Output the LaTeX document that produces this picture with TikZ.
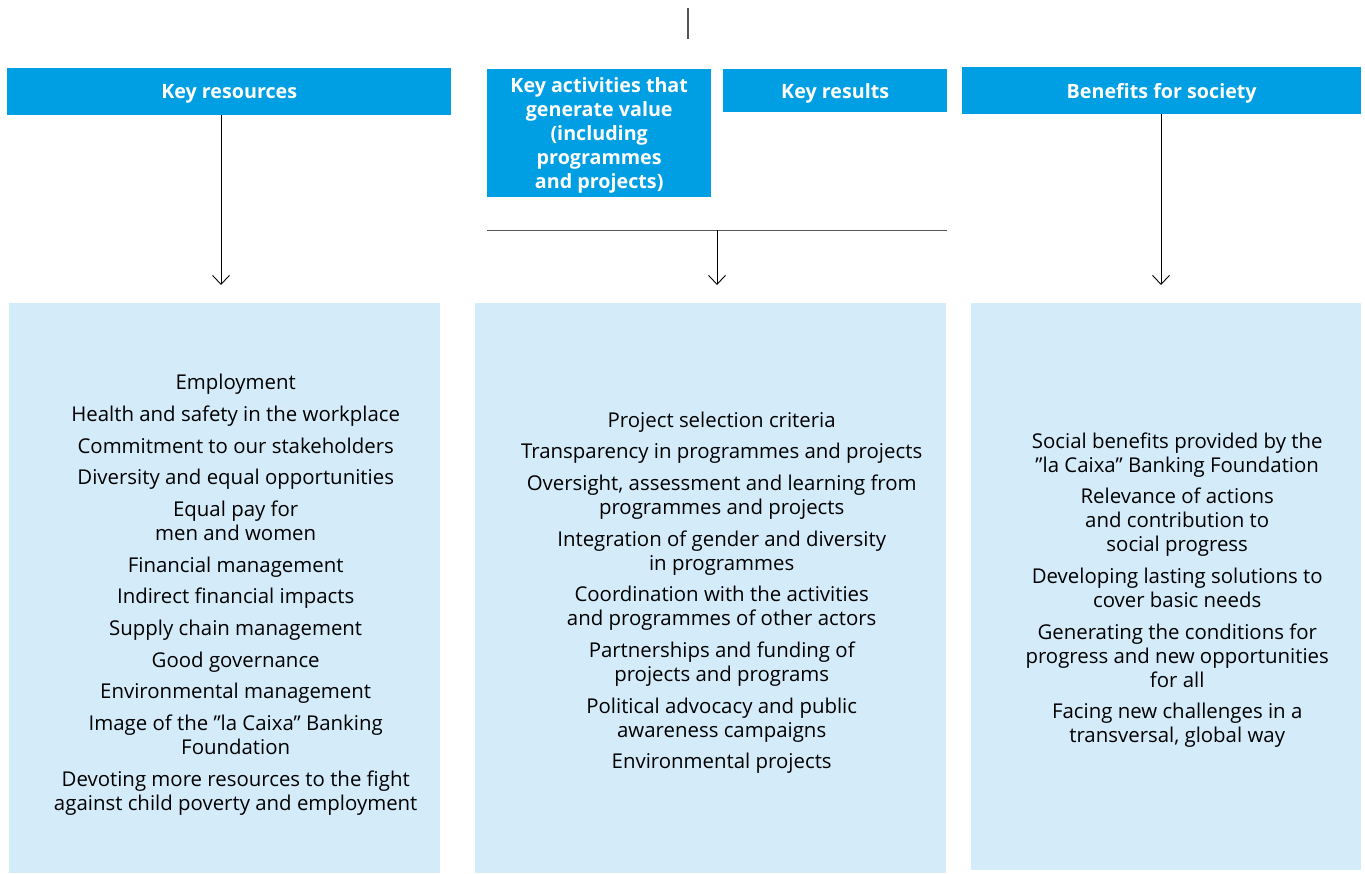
\documentclass[tikz,border=0pt]{standalone}
\usepackage{fontspec}
\setmainfont{Open Sans}
\usetikzlibrary{arrows.meta,positioning}

\definecolor{caixablue}{RGB}{0,159,227}
\definecolor{caixalight}{RGB}{212,235,249}
\definecolor{linegray}{RGB}{85,85,85}

\begin{document}
\begin{tikzpicture}[x=1pt,y=-1pt,
  head/.style={fill=caixablue,text=white,font=\fontsize{19.7}{24}\selectfont\bfseries,
    align=center,inner sep=0pt,text depth=0pt,anchor=north west},
  panel/.style={fill=caixalight,inner sep=0pt,anchor=north west},
  itemtext/.style={font=\fontsize{20.4}{24}\selectfont,align=center,inner sep=0pt},
  link/.style={black,line width=0.9pt,-{Straight Barb[length=9pt,width=17pt]}}]

\useasboundingbox (0,0) rectangle (1365,873);

% headers
\node[head,minimum width=444pt,minimum height=47pt] (res) at (7,68) {Key resources};
\node[head,minimum width=224pt,minimum height=128pt] (act) at (487,69)
  {Key activities that\\generate value\\(including\\programmes\\and projects)};
\node[head,minimum width=224pt,minimum height=43pt] (out) at (723,69) {Key results};
\node[head,minimum width=399pt,minimum height=47pt] (ben) at (962,67) {Benefits for society};

% panels
\node[panel,minimum width=431pt,minimum height=570pt] (resbox) at (9,303) {};
\node[panel,minimum width=471pt,minimum height=570pt] (actbox) at (475,303) {};
\node[panel,minimum width=390pt,minimum height=567pt] (benbox) at (971,303) {};

% connectors
\coordinate (top) at (688,8);
\coordinate (bar) at (717,230);
\coordinate (resend) at (221,285);
\coordinate (actend) at (717,285);
\coordinate (benend) at (1161,285);

\draw[linegray,line width=1.3pt] (top) -- ++(0,31);
\draw[linegray,line width=1pt] (act.west |- bar) -- (out.east |- bar);
\draw[link] (res.south -| resend) -- (resend);
\draw[link] (bar) -- (actend);
\draw[link] (ben.south -| benend) -- (benend);

% lists
\node[itemtext] (reslist) at ([xshift=11pt,yshift=-6.5pt]resbox.center)
  {Employment\\[7.7pt]
   Health and safety in the workplace\\[7.7pt]
   Commitment to our stakeholders\\[7.7pt]
   Diversity and equal opportunities\\[7.7pt]
   Equal pay for\\men and women\\[7.7pt]
   Financial management\\[7.7pt]
   Indirect financial impacts\\[7.7pt]
   Supply chain management\\[7.7pt]
   Good governance\\[7.7pt]
   Environmental management\\[7.7pt]
   Image of the ”la Caixa” Banking\\Foundation\\[7.7pt]
   Devoting more resources to the fight\\against child poverty and employment};

\node[itemtext] (actlist) at ([xshift=11pt,yshift=-4.5pt]actbox.center)
  {Project selection criteria\\[7.7pt]
   Transparency in programmes and projects\\[7.7pt]
   Oversight, assessment and learning from\\programmes and projects\\[7.7pt]
   Integration of gender and diversity\\in programmes\\[7.7pt]
   Coordination with the activities\\and programmes of other actors\\[7.7pt]
   Partnerships and funding of\\projects and programs\\[7.7pt]
   Political advocacy and public\\awareness campaigns\\[7.7pt]
   Environmental projects};

\node[itemtext] (benlist) at ([xshift=11pt,yshift=-3.5pt]benbox.center)
  {Social benefits provided by the\\”la Caixa” Banking Foundation\\[7.7pt]
   Relevance of actions\\and contribution to\\social progress\\[7.7pt]
   Developing lasting solutions to\\cover basic needs\\[7.7pt]
   Generating the conditions for\\progress and new opportunities\\for all\\[7.7pt]
   Facing new challenges in a\\transversal, global way};

\end{tikzpicture}
\end{document}
